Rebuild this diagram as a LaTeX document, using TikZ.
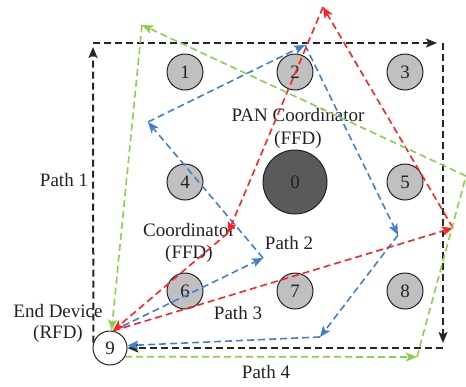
\documentclass[tikz,border=0pt]{standalone}
\usepackage{fontspec}
\setmainfont{Liberation Serif}
\usetikzlibrary{arrows.meta}
\definecolor{pathred}{HTML}{FF2222}
\definecolor{pathblue}{HTML}{3F7FD6}
\definecolor{pathgreen}{HTML}{8CCF4A}
\definecolor{nodegray}{HTML}{C0C0C0}
\definecolor{pangray}{HTML}{5A5A5A}
\definecolor{ink}{HTML}{222222}
\begin{document}
\begin{tikzpicture}[x=1pt,y=-1pt,
  font=\fontsize{19}{22}\selectfont,
  dev/.style={circle,draw=ink,line width=1pt,fill=nodegray,minimum size=36pt,inner sep=0pt,text=ink},
  pan/.style={circle,draw=ink,line width=1pt,fill=pangray,minimum size=64pt,inner sep=0pt,text=ink},
  rfd/.style={circle,draw=ink,line width=1pt,fill=white,minimum size=34pt,inner sep=0pt,text=ink},
  lbl/.style={text=ink,inner sep=0pt,align=center},
  tip/.style={-{Stealth[length=11pt,width=9pt,inset=2.5pt]}},
  blackpath/.style={draw=black!85,line width=2pt,dash pattern=on 7pt off 4pt,tip},
  redpath/.style={draw=pathred,line width=1.6pt,dash pattern=on 7pt off 4pt,tip},
  bluepath/.style={draw=pathblue,line width=1.6pt,dash pattern=on 7pt off 4pt,tip},
  greenpath/.style={draw=pathgreen,line width=1.6pt,dash pattern=on 7pt off 4pt,tip},
  plainpath/.style={-}]
\useasboundingbox (0,0) rectangle (466,386);

% devices
\node[dev] (n1) at (185,72) {1};
\node[dev] (n2) at (295,72) {2};
\node[dev] (n3) at (405,72) {3};
\node[dev] (n4) at (185,182) {4};
\node[pan] (n0) at (295,182) {0};
\node[dev] (n5) at (405,182) {5};
\node[dev] (n6) at (185,291) {6};
\node[dev] (n7) at (295,291) {7};
\node[dev] (n8) at (405,291) {8};
\node[rfd] (n9) at (110,348) {9};

% labels
\node[lbl] at (298,115) {PAN Coordinator};
\node[lbl] at (298,140) {(FFD)};
\node[lbl] at (189,230) {Coordinator};
\node[lbl] at (189,254) {(FFD)};
\node[lbl] at (58,311) {End Device};
\node[lbl] at (58,334) {(RFD)};
\node[lbl] at (64,180) {Path 1};
\node[lbl] at (289,243) {Path 2};
\node[lbl] at (238,313) {Path 3};
\node[lbl] at (266,372) {Path 4};

% turning points
\coordinate (k1) at (93,43);
\coordinate (k2) at (443,43);
\coordinate (k3) at (443,348);
\coordinate (r1) at (453,228);
\coordinate (r2) at (323,7);
\coordinate (r3) at (228,233);
\coordinate (b1) at (263,258);
\coordinate (b2) at (148,122);
\coordinate (b3) at (305,45);
\coordinate (b4) at (398,235);
\coordinate (b5) at (320,337);
\coordinate (g1) at (417,357);
\coordinate (g2) at (466,176);
\coordinate (g3) at (142,25);

% Path 1
\draw[blackpath,shorten >=4pt] (n9.162) -- (k1);
\draw[blackpath,shorten >=6pt] (k1) -- (k2);
\draw[blackpath,shorten >=5pt] (k2) -- (k3);
\draw[blackpath] (k3) -- (n9.east);

% Path 2
\draw[bluepath] (n9.80) -- (b1);
\draw[bluepath] (b1) -- (b2);
\draw[bluepath] (b2) -- (b3);
\draw[bluepath] (b3) -- (b4);
\draw[bluepath] (b4) -- (b5);
\draw[bluepath] (b5) -- (n9.8);

% Path 3
\draw[redpath] (n9.80) -- (r1);
\draw[redpath] (r1) -- (r2);
\draw[redpath] (r2) -- (r3);
\draw[redpath] (r3) -- (n9.80);

% Path 4
\draw[greenpath] (n9.-30) -- (g1);
\draw[greenpath,plainpath] (g1) -- (g2);
\draw[greenpath] (g2) -- (g3);
\draw[greenpath] (g3) -- (n9.85);
\end{tikzpicture}
\end{document}
